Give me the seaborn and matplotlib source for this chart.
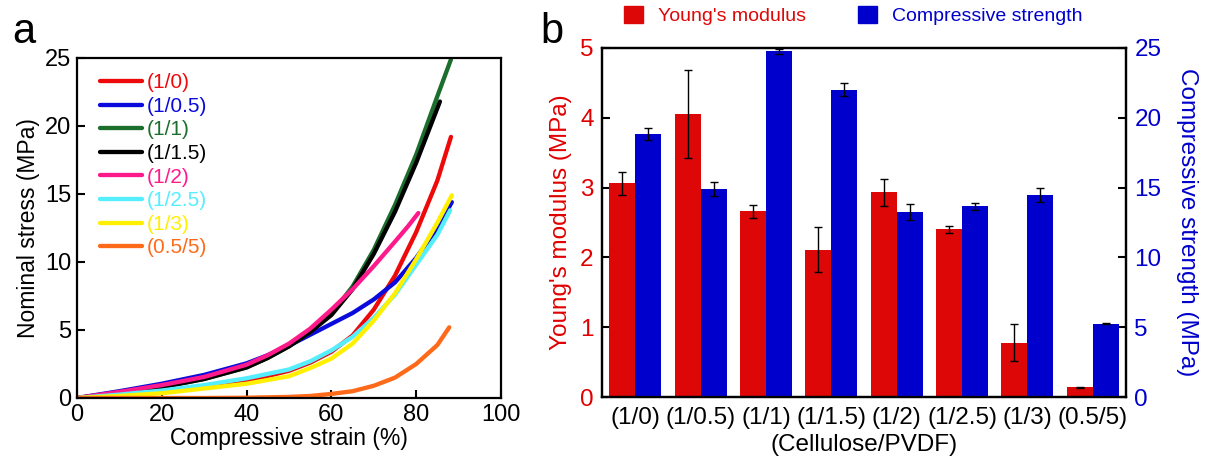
import numpy as np
import pandas as pd
import matplotlib
matplotlib.use("Agg")
import matplotlib.pyplot as plt
from matplotlib.patches import Patch
import seaborn as sns

# ---------------- stress-strain curves (panel a) ----------------
ratios = ["(1/0)", "(1/0.5)", "(1/1)", "(1/1.5)", "(1/2)", "(1/2.5)", "(1/3)", "(0.5/5)"]
line_colors = ["#EE0A0A", "#0A0ADD", "#1B6E2C", "#000000", "#FF1A8C", "#55EEFF", "#FFF000", "#FF6A1A"]

strain_1_0 = [0, 10, 20, 30, 40, 50, 55, 60, 65, 70, 75, 80, 85, 88.2]
stress_1_0 = [0, 0.2, 0.45, 0.8, 1.25, 2.0, 2.6, 3.4, 4.6, 6.5, 9.0, 12.2, 16.0, 19.2]

strain_1_05 = [0, 10, 20, 30, 40, 45, 50, 55, 60, 65, 70, 75, 80, 85, 88.4]
stress_1_05 = [0, 0.5, 1.05, 1.7, 2.55, 3.15, 3.85, 4.65, 5.45, 6.25, 7.25, 8.5, 10.3, 12.5, 14.4]

strain_1_1 = [0, 10, 20, 30, 40, 45, 50, 55, 60, 65, 70, 75, 80, 85, 88.2]
stress_1_1 = [0, 0.35, 0.8, 1.4, 2.25, 2.95, 3.8, 4.85, 6.2, 8.2, 10.9, 14.2, 17.9, 22.2, 24.9]

strain_1_15 = [0, 10, 20, 30, 40, 45, 50, 55, 60, 65, 70, 75, 80, 85.6]
stress_1_15 = [0, 0.35, 0.8, 1.4, 2.25, 2.95, 3.8, 4.85, 6.1, 8.0, 10.6, 13.7, 17.3, 21.8]

strain_1_2 = [0, 10, 20, 30, 40, 45, 50, 55, 60, 65, 70, 75, 78, 80.5]
stress_1_2 = [0, 0.45, 0.95, 1.55, 2.45, 3.15, 4.0, 5.1, 6.5, 8.0, 9.7, 11.5, 12.6, 13.6]

strain_1_25 = [0, 10, 20, 30, 40, 50, 55, 60, 65, 70, 75, 80, 85, 88]
stress_1_25 = [0, 0.25, 0.55, 0.95, 1.45, 2.1, 2.7, 3.5, 4.5, 5.9, 7.6, 9.8, 12.0, 13.8]

strain_1_3 = [0, 10, 20, 30, 40, 50, 55, 60, 65, 70, 75, 80, 85, 88.4]
stress_1_3 = [0, 0.15, 0.35, 0.7, 1.05, 1.6, 2.2, 2.9, 4.0, 5.7, 7.7, 10.2, 12.9, 14.9]

strain_05_5 = [0, 10, 20, 30, 40, 50, 55, 60, 65, 70, 75, 80, 85, 87.8]
stress_05_5 = [0, 0, 0, 0, 0.02, 0.08, 0.15, 0.3, 0.5, 0.9, 1.5, 2.5, 3.9, 5.2]

curves = [
    (strain_1_0, stress_1_0), (strain_1_05, stress_1_05), (strain_1_1, stress_1_1),
    (strain_1_15, stress_1_15), (strain_1_2, stress_1_2), (strain_1_25, stress_1_25),
    (strain_1_3, stress_1_3), (strain_05_5, stress_05_5),
]

# ---------------- mechanical properties (panel b) ----------------
samples = ratios
young = [3.06, 4.05, 2.66, 2.11, 2.93, 2.40, 0.78, 0.14]
young_err = [0.17, 0.63, 0.09, 0.32, 0.20, 0.05, 0.27, 0.005]
strength = [18.84, 14.88, 24.76, 22.01, 13.23, 13.66, 14.45, 5.25]
strength_err = [0.43, 0.51, 0.20, 0.47, 0.57, 0.27, 0.50, 0.04]
metrics = ["Young's modulus", "Compressive strength"]
bar_colors = {"Young's modulus": "#DD0707", "Compressive strength": "#0000CC"}
RED = "#E00000"
BLUE = "#0000CC"

sns.set_style("ticks")
plt.rcParams["font.family"] = ["Liberation Sans", "DejaVu Sans"]
plt.rcParams["axes.linewidth"] = 1.6
for key in ("text.color", "axes.labelcolor", "xtick.color", "ytick.color", "axes.edgecolor"):
    plt.rcParams[key] = "black"

W, H = 1210, 459
fig = plt.figure(figsize=(W / 100, H / 100), dpi=100)

# ---------- panel a ----------
ax_a = fig.add_axes([77 / W, 1 - 398 / H, (501 - 77) / W, (398 - 58) / H])
frames = []
for name, (xs, ys) in zip(ratios, curves):
    frames.append(pd.DataFrame({"strain": xs, "stress": ys, "ratio": name}))
df_a = pd.concat(frames, ignore_index=True)
sns.lineplot(data=df_a, x="strain", y="stress", hue="ratio", hue_order=ratios,
             palette=line_colors, sort=False, estimator=None, linewidth=3.1,
             legend=False, ax=ax_a)
for ln in ax_a.lines:
    ln.set_solid_capstyle("round")
    ln.set_solid_joinstyle("round")

ax_a.set_xlim(0, 100)
ax_a.set_ylim(0, 25)
ax_a.set_xticks(np.arange(0, 101, 20))
ax_a.set_yticks(np.arange(0, 26, 5))
ax_a.tick_params(direction="in", length=6, width=1.5, labelsize=17, pad=4)
for s in ax_a.spines.values():
    s.set_visible(True)
    s.set_linewidth(1.6)
ax_a.set_xlabel("Compressive strain (%)", fontsize=16.5, labelpad=1)
ax_a.set_ylabel("Nominal stress (MPa)", fontsize=16.5, labelpad=4)

leg = ax_a.legend(ax_a.lines[:len(ratios)], ratios, loc="upper left",
                  bbox_to_anchor=(0.054, 0.955), frameon=False, fontsize=15,
                  handlelength=2.0, handletextpad=0.25, labelspacing=0.22,
                  borderaxespad=0, borderpad=0)
for txt, c in zip(leg.get_texts(), line_colors):
    txt.set_color(c)

# ---------- panel b ----------
ax_b = fig.add_axes([602 / W, 1 - 397 / H, (1126 - 602) / W, (397 - 48) / H])
df_y = pd.DataFrame({"sample": samples, "value": young, "metric": metrics[0]})
df_s = pd.DataFrame({"sample": samples, "value": strength, "metric": metrics[1]})

sns.barplot(data=df_y, x="sample", y="value", hue="metric", hue_order=metrics,
            order=samples, palette=bar_colors, width=0.8, dodge=True, errorbar=None,
            saturation=1, legend=False, linewidth=0, ax=ax_b)
ax_r = ax_b.twinx()
sns.barplot(data=df_s, x="sample", y="value", hue="metric", hue_order=metrics,
            order=samples, palette=bar_colors, width=0.8, dodge=True, errorbar=None,
            saturation=1, legend=False, linewidth=0, ax=ax_r)

for ax, vals, errs in ((ax_b, young, young_err), (ax_r, strength, strength_err)):
    bars = sorted(ax.patches, key=lambda p: p.get_x())
    centers = [p.get_x() + p.get_width() / 2 for p in bars]
    ax.errorbar(centers, vals, yerr=errs, fmt="none", ecolor="black",
                elinewidth=1.0, capsize=3, capthick=1.0, zorder=5)

ax_b.set_xlim(-0.51, 7.51)
ax_b.set_ylim(0, 5)
ax_r.set_ylim(0, 25)
ax_b.set_yticks(np.arange(0, 6, 1))
ax_r.set_yticks(np.arange(0, 26, 5))
ax_b.tick_params(axis="y", direction="in", length=6, width=1.5, labelsize=17.5,
                 labelcolor=RED, pad=6)
ax_b.tick_params(axis="x", length=0, labelsize=17.5, pad=7)
ax_r.tick_params(axis="y", direction="in", length=6, width=1.5, labelsize=17.5,
                 labelcolor=BLUE, pad=6)
for ax in (ax_b, ax_r):
    for s in ax.spines.values():
        s.set_visible(True)
        s.set_linewidth(1.6)
ax_b.set_xlabel("(Cellulose/PVDF)", fontsize=17.5, labelpad=4)
ax_b.set_ylabel("Young's modulus (MPa)", fontsize=17.5, color=RED, labelpad=6)
ax_r.set_ylabel("Compressive strength (MPa)", fontsize=17.5, color=BLUE,
                rotation=270, labelpad=26)

leg_b = fig.legend([Patch(color=bar_colors[m]) for m in metrics], metrics,
                   loc="upper left", bbox_to_anchor=(624 / W, 1 - 6 / H), ncol=2,
                   frameon=False, fontsize=14, handlelength=1.0, handleheight=1.0,
                   handletextpad=0.77, columnspacing=2.65, borderpad=0,
                   borderaxespad=0)
for txt, m in zip(leg_b.get_texts(), metrics):
    txt.set_color(bar_colors[m])

# panel letters
fig.text(12 / W, 1 - 43 / H, "a", fontsize=30, va="baseline", ha="left")
fig.text(540 / W, 1 - 43 / H, "b", fontsize=30, va="baseline", ha="left")

fig.savefig("out.png", dpi=100)
